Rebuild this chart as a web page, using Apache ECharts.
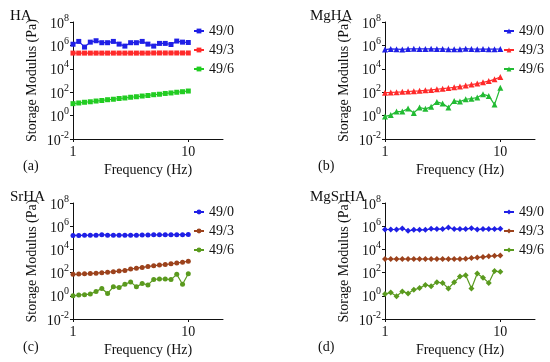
<!DOCTYPE html>
<html>
<head>
<meta charset="utf-8">
<script src="https://cdn.jsdelivr.net/npm/echarts@6/dist/echarts.min.js"></script>
<style>html,body{margin:0;padding:0;background:#fff}#c{width:550px;height:362px}</style>
</head>
<body>
<div id="c"></div>
<script>
const freq = [1, 1.122, 1.259, 1.413, 1.585, 1.778, 1.995, 2.239, 2.512, 2.818, 3.162, 3.548, 3.981, 4.467, 5.012, 5.623, 6.310, 7.079, 7.943, 8.913, 10];
const seriesNames = ['49/0', '49/3', '49/6'];
const panelTitles = ['HA', 'MgHA', 'SrHA', 'MgSrHA'];
const panelTags = ['(a)', '(b)', '(c)', '(d)'];
const yTicks = [0.01, 1, 100, 1e4, 1e6, 1e8];
const xTicks = [1, 10];

// Panel (a) HA
const ha_490 = [1.26e6, 2.19e6, 7.2e5, 1.9e6, 2.5e6, 1.7e6, 1.7e6, 2.19e6, 1.29e6, 8.7e5, 1.7e6, 1.7e6, 2.19e6, 1.29e6, 8.7e5, 1.48e6, 1.48e6, 1.2e6, 2.34e6, 1.9e6, 1.78e6];
const ha_493 = [2.2e5, 2.2e5, 2.2e5, 2.2e5, 2.2e5, 2.2e5, 2.2e5, 2.2e5, 2.2e5, 2.2e5, 2.2e5, 2.2e5, 2.2e5, 2.2e5, 2.25e5, 2.25e5, 2.25e5, 2.25e5, 2.25e5, 2.25e5, 2.25e5];
const ha_496 = [10.5, 12, 13.8, 15.2, 17.6, 19.5, 22.8, 25, 29, 32, 37, 41, 47, 52, 61, 67, 78, 86, 99, 110, 126];

// Panel (b) MgHA
const mgha_490 = [4.4e5, 5.0e5, 4.8e5, 4.5e5, 5.0e5, 5.1e5, 5.0e5, 5.0e5, 5.1e5, 5.0e5, 5.0e5, 4.7e5, 4.6e5, 4.8e5, 5.2e5, 4.9e5, 4.8e5, 4.9e5, 4.8e5, 4.8e5, 4.9e5];
const mgha_493 = [91, 95, 100, 107, 115, 123, 132, 145, 158, 178, 200, 229, 263, 309, 372, 447, 550, 692, 891, 1259, 1995];
const mgha_496 = [0.85, 1.1, 2.2, 2.2, 4.0, 1.7, 4.9, 3.8, 5.6, 14.8, 10.7, 4.9, 17.8, 15.8, 25, 28, 35, 66, 48, 8.7, 240];

// Panel (c) SrHA
const srha_490 = [1.6e5, 1.6e5, 1.65e5, 1.7e5, 1.7e5, 1.85e5, 1.7e5, 1.7e5, 1.7e5, 1.7e5, 1.7e5, 1.7e5, 1.75e5, 1.75e5, 1.8e5, 1.8e5, 1.8e5, 1.8e5, 1.85e5, 1.85e5, 1.9e5];
const srha_493 = [71, 74, 78, 83, 89, 98, 107, 120, 135, 155, 200, 240, 282, 331, 398, 447, 501, 575, 676, 794, 955];
const srha_496 = [1.0, 1.17, 1.26, 1.41, 2.4, 4.3, 1.6, 5.9, 5.2, 10, 15.8, 5.9, 11.5, 8.7, 26, 28, 28, 25, 71, 10, 79];

// Panel (d) MgSrHA
const mgsrha_490 = [5.2e5, 5.2e5, 5.2e5, 6.3e5, 4.0e5, 4.9e5, 4.9e5, 4.9e5, 5.9e5, 5.6e5, 5.6e5, 7.8e5, 5.6e5, 5.6e5, 5.6e5, 6.8e5, 5.2e5, 5.6e5, 5.6e5, 5.6e5, 5.9e5];
const mgsrha_493 = [1480, 1480, 1480, 1480, 1480, 1480, 1480, 1480, 1480, 1480, 1480, 1480, 1480, 1480, 1580, 1780, 2000, 2240, 2510, 2820, 3020];
const mgsrha_496 = [1.4, 1.95, 0.9, 2.4, 1.6, 3.3, 4.6, 8.7, 6.8, 14.8, 12.9, 4.3, 14.8, 45, 58, 4.3, 85, 36, 12.9, 135, 117];

const panelData = [
  [ha_490, ha_493, ha_496],
  [mgha_490, mgha_493, mgha_496],
  [srha_490, srha_493, srha_496],
  [mgsrha_490, mgsrha_493, mgsrha_496]
];

const FONT = 'Liberation Serif';
const symbols = ['rect', 'triangle', 'circle', 'diamond'];
const symSizes = [5, 6, 5, 6];
const colors = [
  ['#1f1fe6', '#ff2a2a', '#22cc22'],
  ['#1f1fe6', '#ff2a2a', '#22bb33'],
  ['#1f1fe6', '#9c421c', '#5a9a1e'],
  ['#1f1fe6', '#9c421c', '#5a9a1e']
];
const grids = [
  {left: 73, top: 22, width: 150, height: 117},
  {left: 385, top: 22, width: 150, height: 117},
  {left: 73, top: 203, width: 150, height: 116},
  {left: 385, top: 203, width: 150, height: 116}
];
const legendPos = [
  {left: 193, top: 24}, {left: 503, top: 24},
  {left: 193, top: 205}, {left: 503, top: 205}
];
const titlePos = [
  {tl: 5, tt: 4, gl: 18, gt: 154},
  {tl: 305, tt: 4, gl: 313, gt: 154},
  {tl: 5, tt: 185, gl: 18, gt: 335},
  {tl: 305, tt: 185, gl: 313, gt: 335}
];

const option = {
  animation: false,
  backgroundColor: '#fff',
  grid: grids.map(g => Object.assign({containLabel: false}, g)),
  title: [],
  legend: [],
  xAxis: [],
  yAxis: [],
  series: []
};

for (let p = 0; p < 4; p++) {
  option.title.push({text: panelTitles[p], left: titlePos[p].tl, top: titlePos[p].tt,
    textStyle: {fontFamily: FONT, fontSize: 15, fontWeight: 'normal', color: '#111'}});
  option.title.push({text: panelTags[p], left: titlePos[p].gl, top: titlePos[p].gt,
    textStyle: {fontFamily: FONT, fontSize: 14, fontWeight: 'normal', color: '#111'}});
  option.xAxis.push({
    type: 'log', logBase: 10, gridIndex: p, min: 1, max: 20,
    name: 'Frequency (Hz)', nameLocation: 'middle', nameGap: 24,
    nameTextStyle: {fontFamily: FONT, fontSize: 14, color: '#111'},
    axisLine: {lineStyle: {color: '#111', width: 1}},
    axisTick: {show: true, length: 3, inside: false, customValues: xTicks, lineStyle: {color: '#111'}},
    axisLabel: {customValues: xTicks, margin: 6, fontFamily: FONT, fontSize: 14, color: '#111'},
    splitLine: {show: false}
  });
  option.yAxis.push({
    type: 'log', logBase: 10, gridIndex: p, min: 0.01, max: 1e8, interval: 2,
    name: 'Storage Modulus (Pa)', nameLocation: 'middle', nameGap: 34,
    nameTextStyle: {fontFamily: FONT, fontSize: 14, color: '#111'},
    axisLine: {show: true, lineStyle: {color: '#111', width: 1}},
    axisTick: {show: true, length: 3, customValues: yTicks, lineStyle: {color: '#111'}},
    axisLabel: {
      customValues: yTicks, margin: 4, color: '#111',
      formatter: v => '{b|10}{s|' + Math.round(Math.log10(v)) + '}',
      rich: {
        b: {fontFamily: FONT, fontSize: 14, color: '#111', verticalAlign: 'bottom', lineHeight: 18},
        s: {fontFamily: FONT, fontSize: 10, color: '#111', verticalAlign: 'top', lineHeight: 18}
      }
    },
    splitLine: {show: false}
  });
  const names = [];
  for (let s = 0; s < 3; s++) {
    const nm = p + ':' + seriesNames[s];
    names.push(nm);
    option.series.push({
      name: nm, type: 'line', xAxisIndex: p, yAxisIndex: p,
      data: freq.map((f, i) => [f, panelData[p][s][i]]),
      symbol: symbols[p], symbolSize: symSizes[p], showSymbol: true,
      color: colors[p][s],
      lineStyle: {width: 1.2, color: colors[p][s]},
      itemStyle: {color: colors[p][s]}
    });
  }
  option.legend.push({
    data: names, orient: 'vertical', left: legendPos[p].left, top: legendPos[p].top,
    itemWidth: 10, itemHeight: 6, itemGap: 5, padding: 0,
    formatter: n => n.split(':')[1],
    textStyle: {fontFamily: FONT, fontSize: 14, color: '#111'}
  });
}

const chart = echarts.init(document.getElementById('c'), null, {renderer: 'canvas'});
chart.setOption(option);
</script>
</body>
</html>
